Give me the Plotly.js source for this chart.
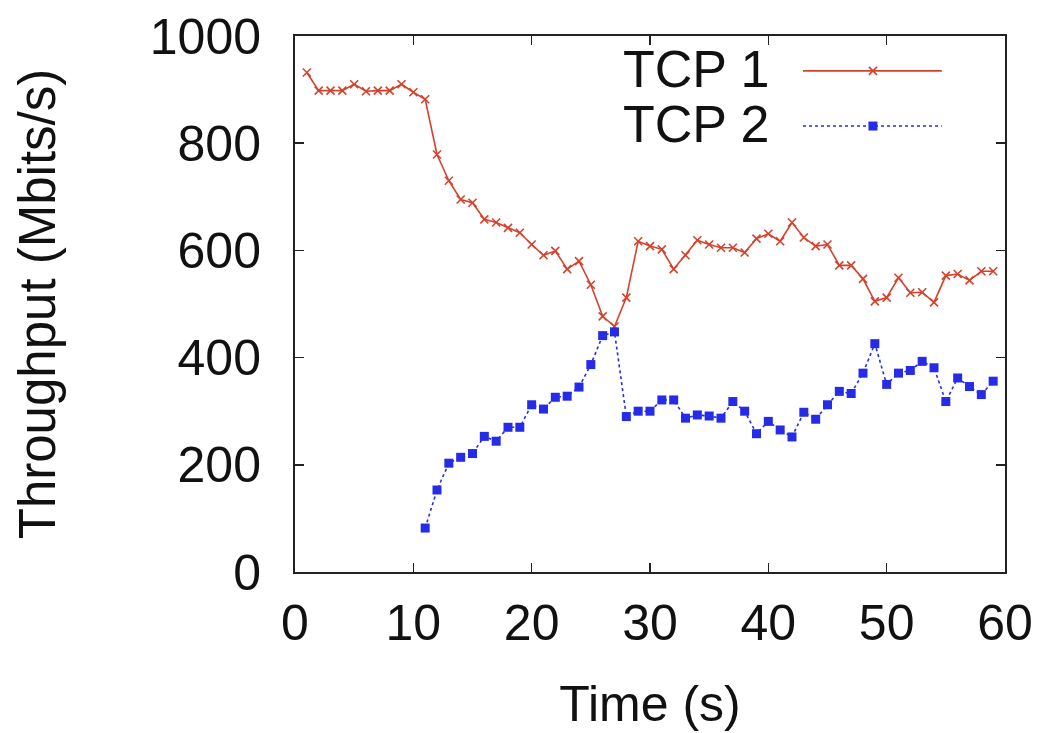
<!DOCTYPE html>
<html>
<head>
<meta charset="utf-8">
<script src="https://cdn.plot.ly/plotly-3.0.1.min.js"></script>
<style>html,body{margin:0;padding:0;background:#fff;}#chart{width:1047px;height:733px;}</style>
</head>
<body>
<div id="chart"></div>
<script>
const tcp1Time = [1,2,3,4,5,6,7,8,9,10,11,12,13,14,15,16,17,18,19,20,21,22,23,24,25,26,27,28,29,30,31,32,33,34,35,36,37,38,39,40,41,42,43,44,45,46,47,48,49,50,51,52,53,54,55,56,57,58,59];
const tcp1Values = [932,898,898,898,910,897,898,898,910,895,882,779,730,695,689,658,652,642,633,611,591,599,565,580,536,477,458,512,617,608,602,565,591,619,611,605,605,596,622,631,617,652,624,608,611,572,572,547,505,512,549,521,522,503,553,556,544,561,561];
const tcp2Time = [11,12,13,14,15,16,17,18,19,20,21,22,23,24,25,26,27,28,29,30,31,32,33,34,35,36,37,38,39,40,41,42,43,44,45,46,47,48,49,50,51,52,53,54,55,56,57,58,59];
const tcp2Values = [82,153,203,214,221,253,244,270,270,312,304,326,328,345,387,441,448,290,300,300,321,321,287,293,291,287,318,300,258,281,265,252,298,285,312,337,333,371,426,350,371,376,393,381,318,362,346,331,356];
const seriesNames = ["TCP 1", "TCP 2"];
const xTicks = [0,10,20,30,40,50,60];
const yTicks = [0,200,400,600,800,1000];

const red = "rgb(212,66,44)";
const blue = "rgb(38,44,230)";
const font = "Liberation Sans, Arial, Helvetica, sans-serif";

const traces = [
  {x: tcp1Time, y: tcp1Values, name: seriesNames[0], type: "scatter", mode: "lines+markers",
   line: {color: red, width: 1.6},
   marker: {symbol: "x-thin-open", size: 8, color: red, line: {color: red, width: 1.6}}},
  {x: tcp2Time, y: tcp2Values, name: seriesNames[1], type: "scatter", mode: "lines+markers",
   line: {color: blue, width: 1.6, dash: "dot"},
   marker: {symbol: "square", size: 9, color: blue}}
];

// legend drawn as text on the left and sample on the right (gnuplot style)
const legY = [0.935, 0.832];
const lx0 = 0.7155, lx1 = 0.911, lxm = 0.814;
const shapes = [
  {type: "line", xref: "paper", yref: "paper", x0: lx0, x1: lx1, y0: legY[0], y1: legY[0], line: {color: red, width: 1.6}},
  {type: "line", xref: "paper", yref: "paper", x0: lx0, x1: lx1, y0: legY[1], y1: legY[1], line: {color: blue, width: 1.6, dash: "dot"}}
];
const legendMarkers = [
  {x: [lxm], y: [legY[0]], xaxis: "x2", yaxis: "y2", mode: "markers", showlegend: false, hoverinfo: "skip",
   marker: {symbol: "x-thin-open", size: 8, color: red, line: {color: red, width: 1.6}}},
  {x: [lxm], y: [legY[1]], xaxis: "x2", yaxis: "y2", mode: "markers", showlegend: false, hoverinfo: "skip",
   marker: {symbol: "square", size: 9, color: blue}}
];
const annotations = seriesNames.map((n, i) => ({
  text: n, xref: "paper", yref: "paper", x: 0.671, y: legY[i] + 0.003,
  xanchor: "right", yanchor: "middle", showarrow: false,
  font: {family: font, size: 52, color: "#111"}
}));

const axisCommon = {
  showline: true, linecolor: "#222", linewidth: 2, mirror: "ticks",
  ticks: "inside", ticklen: 9, tickwidth: 1.5, tickcolor: "#222",
  showgrid: false, zeroline: false,
  tickfont: {family: font, size: 50, color: "#111"}
};

const layout = {
  width: 1047, height: 733,
  margin: {l: 295, r: 42, t: 36, b: 161},
  paper_bgcolor: "#fff", plot_bgcolor: "#fff",
  showlegend: false,
  xaxis: Object.assign({}, axisCommon, {
    range: [0, 60], tickvals: xTicks, ticktext: xTicks.map(String),
    ticklabelstandoff: 6,
    title: {text: "Time (s)", font: {family: font, size: 50, color: "#111"}, standoff: 36}
  }),
  yaxis: Object.assign({}, axisCommon, {
    range: [0, 1000], tickvals: yTicks, ticktext: yTicks.map(String),
    ticklabelstandoff: 22,
    title: {text: "Throughput (Mbits/s)", font: {family: font, size: 51, color: "#111"}, standoff: 78}
  }),
  xaxis2: {overlaying: "x", range: [0, 1], visible: false, fixedrange: true},
  yaxis2: {overlaying: "y", range: [0, 1], visible: false, fixedrange: true},
  shapes: shapes,
  annotations: annotations
};

Plotly.newPlot("chart", traces.concat(legendMarkers), layout, {displayModeBar: false, staticPlot: true});
</script>
</body>
</html>
